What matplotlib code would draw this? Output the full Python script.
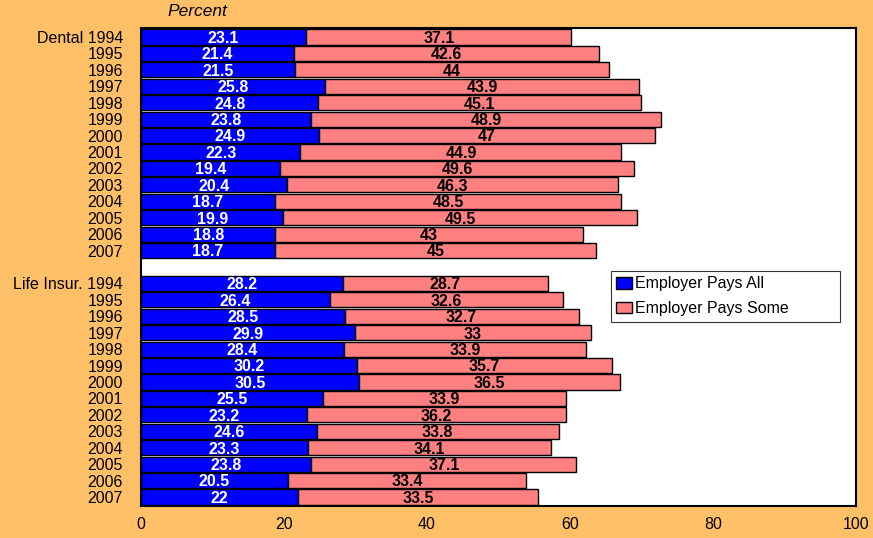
import numpy as np
import matplotlib.pyplot as plt
from matplotlib.patches import Patch

plt.rcParams['font.family'] = ['Liberation Sans', 'DejaVu Sans']

years = ['1994', '1995', '1996', '1997', '1998', '1999', '2000',
         '2001', '2002', '2003', '2004', '2005', '2006', '2007']
dental_all = [23.1, 21.4, 21.5, 25.8, 24.8, 23.8, 24.9, 22.3, 19.4, 20.4, 18.7, 19.9, 18.8, 18.7]
dental_some = [37.1, 42.6, 44, 43.9, 45.1, 48.9, 47, 44.9, 49.6, 46.3, 48.5, 49.5, 43, 45]
life_all = [28.2, 26.4, 28.5, 29.9, 28.4, 30.2, 30.5, 25.5, 23.2, 24.6, 23.3, 23.8, 20.5, 22]
life_some = [28.7, 32.6, 32.7, 33, 33.9, 35.7, 36.5, 33.9, 36.2, 33.8, 34.1, 37.1, 33.4, 33.5]

bg = '#FFC068'
blue = '#0000FF'
pink = '#FF8080'

fig = plt.figure(figsize=(8.73, 5.38), dpi=100, facecolor=bg)
ax = fig.add_axes([141 / 873, 1 - 506 / 538, 715 / 873, 478 / 538])

n = len(years)
pos_dental = np.arange(n)
pos_life = np.arange(n) + n + 1
ylabels = ['Dental ' + years[0]] + years[1:] + ['Life Insur. ' + years[0]] + years[1:]

h = 0.92
for pos, a, s in [(pos_dental, dental_all, dental_some), (pos_life, life_all, life_some)]:
    a = np.array(a)
    s = np.array(s)
    ax.barh(pos, a, height=h, color=blue, edgecolor='black', linewidth=1)
    ax.barh(pos, s, left=a, height=h, color=pink, edgecolor='black', linewidth=1)
    for p, va, vs in zip(pos, a, s):
        ax.text(va / 2, p + 0.08, f'{va:g}', ha='center', va='center',
                color='white', fontweight='bold', fontsize=11.5)
        ax.text(va + vs / 2, p + 0.08, f'{vs:g}', ha='center', va='center',
                color='black', fontweight='bold', fontsize=11.5)

handles = [Patch(facecolor=blue, edgecolor='black', label='Employer Pays All'),
           Patch(facecolor=pink, edgecolor='black', label='Employer Pays Some')]

ax.set_xlim(0, 100)
ax.set_ylim(2 * n + 0.55, -0.55)
ax.set_yticks(np.concatenate([pos_dental, pos_life]))
ax.set_yticklabels(ylabels, fontsize=11.5)
ax.set_xticks([0, 20, 40, 60, 80, 100])
ax.tick_params(axis='both', length=0, labelsize=11.5)
ax.tick_params(axis='x', pad=8)
ax.tick_params(axis='y', pad=13)
for sp in ax.spines.values():
    sp.set_linewidth(1.5)

leg_h = 48 / 478
leg = ax.legend(handles=handles, loc='upper left',
                bbox_to_anchor=(0.657, 0.492 - leg_h, 0.321, leg_h), mode='expand',
                frameon=True, fancybox=False, edgecolor='black', fontsize=11.5,
                handlelength=1.0, handleheight=0.75, handletextpad=0.15,
                borderpad=0.35, labelspacing=0.6, borderaxespad=0)
leg.get_frame().set_linewidth(0.8)

fig.text(197 / 873, 1 - 12 / 538, 'Percent', ha='center', va='center',
         fontsize=12.5, style='italic')

fig.savefig('out.png', dpi=100, facecolor=bg)
